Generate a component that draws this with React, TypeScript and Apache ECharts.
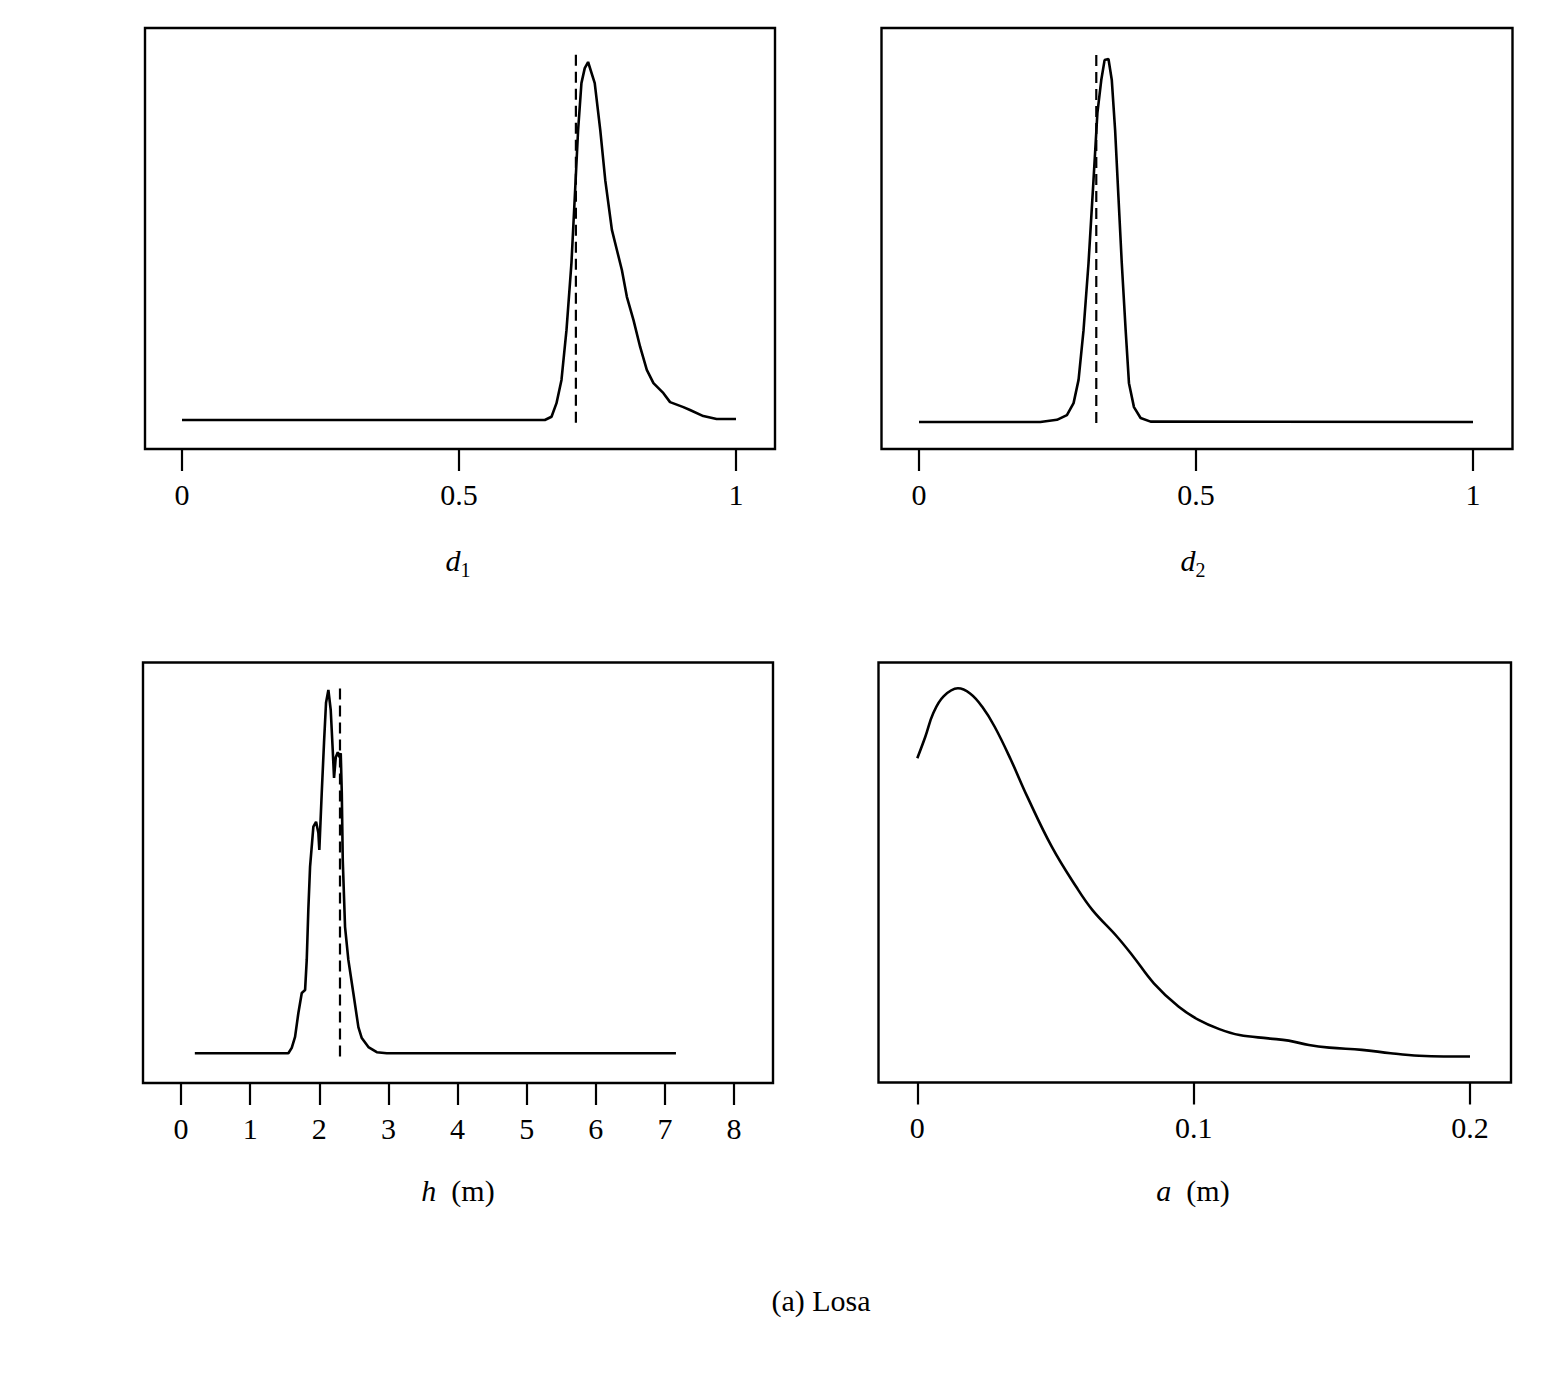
import React, { useEffect, useRef } from "react";
import * as echarts from "echarts";

const FONT = "'Liberation Serif', 'Times New Roman', serif";

// ---- data (relative posterior density, peak = 1) ----
const d1X = [0, 0.655, 0.667, 0.676, 0.685, 0.694, 0.703, 0.709, 0.715, 0.721, 0.727, 0.733, 0.745, 0.755, 0.764, 0.776, 0.785, 0.794, 0.803, 0.815, 0.827, 0.839, 0.851, 0.869, 0.881, 0.905, 0.917, 0.941, 0.965, 1.0];
const d1Y = [0, 0, 0.009, 0.047, 0.112, 0.251, 0.439, 0.623, 0.81, 0.941, 0.983, 1.0, 0.941, 0.81, 0.67, 0.531, 0.475, 0.419, 0.344, 0.279, 0.204, 0.14, 0.103, 0.075, 0.05, 0.036, 0.028, 0.011, 0.003, 0.003];
const d1True = 0.711;
const d1TrueSpan = [-0.008, 1.025];

const d2X = [0, 0.219, 0.249, 0.267, 0.279, 0.288, 0.297, 0.306, 0.315, 0.322, 0.329, 0.335, 0.342, 0.348, 0.354, 0.36, 0.366, 0.373, 0.379, 0.388, 0.4, 0.418, 1.0];
const d2Y = [0, 0, 0.006, 0.019, 0.052, 0.116, 0.253, 0.438, 0.667, 0.851, 0.942, 0.997, 1.0, 0.942, 0.804, 0.62, 0.438, 0.253, 0.107, 0.041, 0.011, 0.001, 0];
const d2True = 0.32;
const d2TrueSpan = [-0.003, 1.011];

const hX = [0.2, 1.553, 1.602, 1.65, 1.698, 1.747, 1.795, 1.819, 1.842, 1.867, 1.915, 1.954, 1.987, 2.001, 2.036, 2.069, 2.098, 2.132, 2.166, 2.195, 2.214, 2.239, 2.268, 2.291, 2.311, 2.326, 2.34, 2.373, 2.421, 2.493, 2.566, 2.615, 2.711, 2.832, 2.977, 7.16];
const hY = [0, 0, 0.015, 0.045, 0.111, 0.166, 0.174, 0.257, 0.395, 0.513, 0.624, 0.637, 0.607, 0.56, 0.717, 0.855, 0.965, 1.0, 0.945, 0.835, 0.758, 0.815, 0.829, 0.815, 0.826, 0.717, 0.532, 0.348, 0.257, 0.166, 0.072, 0.042, 0.017, 0.003, 0, 0];
const hTrue = 2.3;
const hTrueSpan = [-0.009, 1.006];

const aX = [0, 0.0029, 0.0058, 0.0095, 0.0147, 0.0191, 0.0235, 0.028, 0.0339, 0.0398, 0.0487, 0.0575, 0.0634, 0.0723, 0.0782, 0.0856, 0.0945, 0.1018, 0.1093, 0.1166, 0.127, 0.1344, 0.1417, 0.1491, 0.1609, 0.1713, 0.1816, 0.1905, 0.2];
const aY = [0.811, 0.869, 0.933, 0.978, 1.0, 0.986, 0.95, 0.896, 0.806, 0.707, 0.571, 0.463, 0.4, 0.328, 0.274, 0.202, 0.139, 0.103, 0.078, 0.062, 0.053, 0.047, 0.035, 0.028, 0.022, 0.013, 0.006, 0.004, 0.004];

const d1Ticks = [0, 0.5, 1];
const d2Ticks = [0, 0.5, 1];
const hTicks = [0, 1, 2, 3, 4, 5, 6, 7, 8];
const aTicks = [0, 0.1, 0.2];

const caption = "(a) Losa";

const zip = (xs: number[], ys: number[]) => xs.map((x, i) => [x, ys[i]]);

function xAxisFor(gridIndex: number, min: number, max: number, ticks: number[]) {
  return {
    type: "value",
    gridIndex,
    min,
    max,
    position: "bottom",
    axisLine: { show: false, onZero: false },
    splitLine: { show: false },
    axisTick: { show: true, length: 22, inside: false, customValues: ticks, lineStyle: { color: "#000", width: 2.2 } },
    axisLabel: {
      show: true,
      customValues: ticks,
      margin: 30,
      color: "#000",
      fontSize: 30,
      fontFamily: FONT,
      showMinLabel: true,
      showMaxLabel: true,
    },
  };
}

function yAxisFor(gridIndex: number, min: number, max: number) {
  return {
    type: "value",
    gridIndex,
    min,
    max,
    show: false,
    axisLine: { onZero: false },
    splitLine: { show: false },
  };
}

const curveStyle = { color: "#000", width: 2.6 };

function curve(i: number, data: number[][], smooth: number | boolean = false) {
  return {
    type: "line",
    xAxisIndex: i,
    yAxisIndex: i,
    data,
    showSymbol: false,
    symbol: "none",
    smooth,
    lineStyle: curveStyle,
    silent: true,
  };
}

function dashed(i: number, x: number, span: number[]) {
  return {
    type: "line",
    xAxisIndex: i,
    yAxisIndex: i,
    data: [[x, span[0]], [x, span[1]]],
    showSymbol: false,
    symbol: "none",
    lineStyle: { color: "#000", width: 2.2, type: [11, 6] },
    silent: true,
  };
}

const gridBase = { show: true, borderColor: "#000", borderWidth: 2.4, backgroundColor: "transparent", containLabel: false };

const titleRich = {
  i: { fontStyle: "italic", fontSize: 30, fontFamily: FONT, fill: "#000", lineHeight: 40 },
  s: { fontSize: 20, fontFamily: FONT, fill: "#000", lineHeight: 40, verticalAlign: "bottom" },
  n: { fontSize: 30, fontFamily: FONT, fill: "#000", lineHeight: 40 },
};

function title(x: number, y: number, text: string) {
  return {
    type: "text",
    x,
    y,
    silent: true,
    style: { text, rich: titleRich, align: "center", verticalAlign: "middle", fill: "#000", fontSize: 30, fontFamily: FONT },
  };
}

export default function App() {
  const ref = useRef<HTMLDivElement>(null);
  useEffect(() => {
    const chart = echarts.init(ref.current!, null, { renderer: "svg", width: 1548, height: 1374 });
    const option = {
      animation: false,
      backgroundColor: "#fff",
      grid: [
        { ...gridBase, left: 145, top: 28, width: 630, height: 421 },
        { ...gridBase, left: 881.5, top: 28, width: 631, height: 421 },
        { ...gridBase, left: 143, top: 662.5, width: 630, height: 420.5 },
        { ...gridBase, left: 878.5, top: 662.5, width: 632.5, height: 420 },
      ],
      xAxis: [
        xAxisFor(0, -0.0668, 1.0704, d1Ticks),
        xAxisFor(1, -0.0677, 1.0713, d2Ticks),
        xAxisFor(2, -0.5497, 8.564, hTicks),
        xAxisFor(3, -0.01404, 0.21484, aTicks),
      ],
      yAxis: [
        yAxisFor(0, -0.081, 1.095),
        yAxisFor(1, -0.0744, 1.0854),
        yAxisFor(2, -0.0818, 1.0757),
        yAxisFor(3, -0.0663, 1.0698),
      ],
      series: [
        curve(0, zip(d1X, d1Y)),
        dashed(0, d1True, d1TrueSpan),
        curve(1, zip(d2X, d2Y)),
        dashed(1, d2True, d2TrueSpan),
        curve(2, zip(hX, hY)),
        dashed(2, hTrue, hTrueSpan),
        curve(3, zip(aX, aY), 0.4),
      ],
      graphic: [
        title(458, 560, "{i|d}{s|1}"),
        title(1193, 560, "{i|d}{s|2}"),
        title(458, 1190, "{i|h}{n|  (m)}"),
        title(1193, 1190, "{i|a}{n|  (m)}"),
        {
          type: "text",
          x: 821,
          y: 1300,
          silent: true,
          style: { text: caption, align: "center", verticalAlign: "middle", fill: "#000", fontSize: 30, fontFamily: FONT },
        },
      ],
    };
    chart.setOption(option as any);
    return () => chart.dispose();
  }, []);
  return (
    <div
      ref={ref}
      style={{ position: "absolute", left: 0, top: 0, width: 1548, height: 1374, background: "#fff" }}
    />
  );
}
